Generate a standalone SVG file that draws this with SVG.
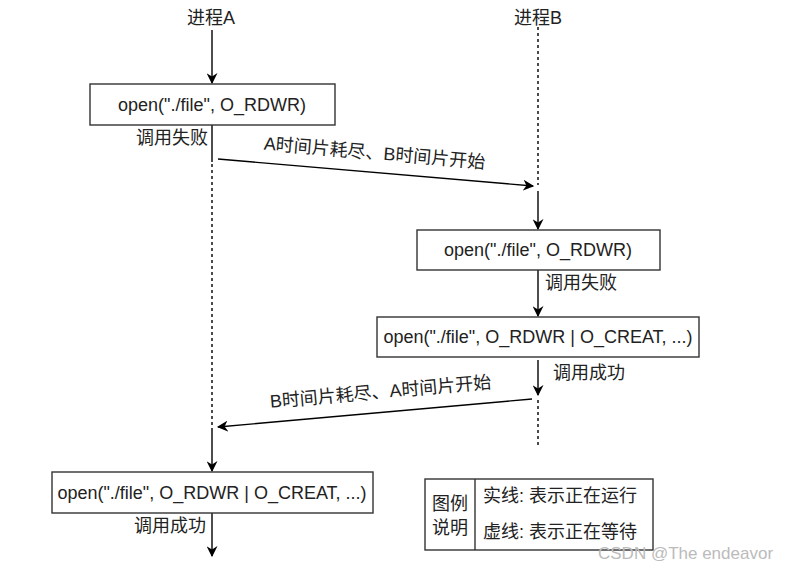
<svg xmlns="http://www.w3.org/2000/svg" width="788" height="569" viewBox="0 0 788 569">
<defs>
<marker id="arr" viewBox="0 0 10 10" refX="9" refY="5" markerWidth="11" markerHeight="11" markerUnits="userSpaceOnUse" orient="auto"><path d="M0,0 L10,5 L0,10 L3,5 Z" fill="#000"/></marker>
<style>
text{font-family:"Liberation Sans","Noto Sans CJK SC",sans-serif;font-size:18px;fill:#222}
.box{fill:#fff;stroke:#333;stroke-width:1.4}
.s{stroke:#000;stroke-width:1.4;fill:none}
.d{stroke:#000;stroke-width:1.4;fill:none;stroke-dasharray:3,3}
.c{text-anchor:middle}
</style>
</defs>
<rect width="788" height="569" fill="#fff"/>
<g id="connectors">
<line class="s" x1="212" y1="30" x2="212" y2="83" marker-end="url(#arr)"/>
<line class="s" x1="212" y1="125" x2="212" y2="162"/>
<line class="d" x1="212" y1="164" x2="212" y2="426"/>
<line class="s" x1="218" y1="159" x2="533" y2="186" marker-end="url(#arr)"/>
<line class="d" x1="538" y1="27" x2="538" y2="185"/>
<line class="s" x1="538" y1="191" x2="538" y2="229" marker-end="url(#arr)"/>
<line class="s" x1="538" y1="270" x2="538" y2="316" marker-end="url(#arr)"/>
<line class="s" x1="538" y1="360" x2="538" y2="395" marker-end="url(#arr)"/>
<line class="d" x1="538" y1="400" x2="538" y2="446"/>
<line class="s" x1="532" y1="399" x2="218" y2="427" marker-end="url(#arr)"/>
<line class="s" x1="212" y1="428" x2="212" y2="471" marker-end="url(#arr)"/>
<line class="s" x1="212" y1="513" x2="212" y2="556" marker-end="url(#arr)"/>
<text x="374" y="159" class="c" transform="rotate(4.9 374 159)">A时间片耗尽、B时间片开始</text>
<text x="381" y="398" class="c" transform="rotate(-5.1 381 398)">B时间片耗尽、A时间片开始</text>
<text x="208" y="144" text-anchor="end">调用失败</text>
<text x="545" y="289">调用失败</text>
<text x="553" y="379">调用成功</text>
<text x="206" y="532" text-anchor="end">调用成功</text>
</g>
<g id="procA"><text x="211" y="24" class="c">进程A</text></g>
<g id="procB"><text x="538" y="24" class="c">进程B</text></g>
<g id="boxA1">
<rect class="box" x="90" y="84" width="245" height="41"/>
<text x="212" y="111" class="c">open("./file", O_RDWR)</text>
</g>
<g id="boxB1">
<rect class="box" x="417" y="230" width="243" height="40"/>
<text x="538" y="256" class="c">open("./file", O_RDWR)</text>
</g>
<g id="boxA2">
<rect class="box" x="52" y="472" width="321" height="41"/>
<text x="212" y="499" class="c">open("./file", O_RDWR | O_CREAT, ...)</text>
</g>
<g id="boxB2">
<rect class="box" x="377" y="317" width="322" height="40"/>
<text x="538" y="343" class="c">open("./file", O_RDWR | O_CREAT, ...)</text>
</g>
<g id="legend">
<rect class="box" x="425" y="479" width="228" height="71"/>
<line x1="475" y1="479" x2="475" y2="550" stroke="#333" stroke-width="1.4"/>
<text x="450" y="510" class="c">图例</text>
<text x="450" y="534" class="c">说明</text>
<text x="483" y="502">实线: 表示正在运行</text>
<text x="483" y="538">虚线: 表示正在等待</text>
</g>
<text x="598" y="559" style="font-size:17px;fill:#bbb">CSDN @The endeavor</text>
</svg>
